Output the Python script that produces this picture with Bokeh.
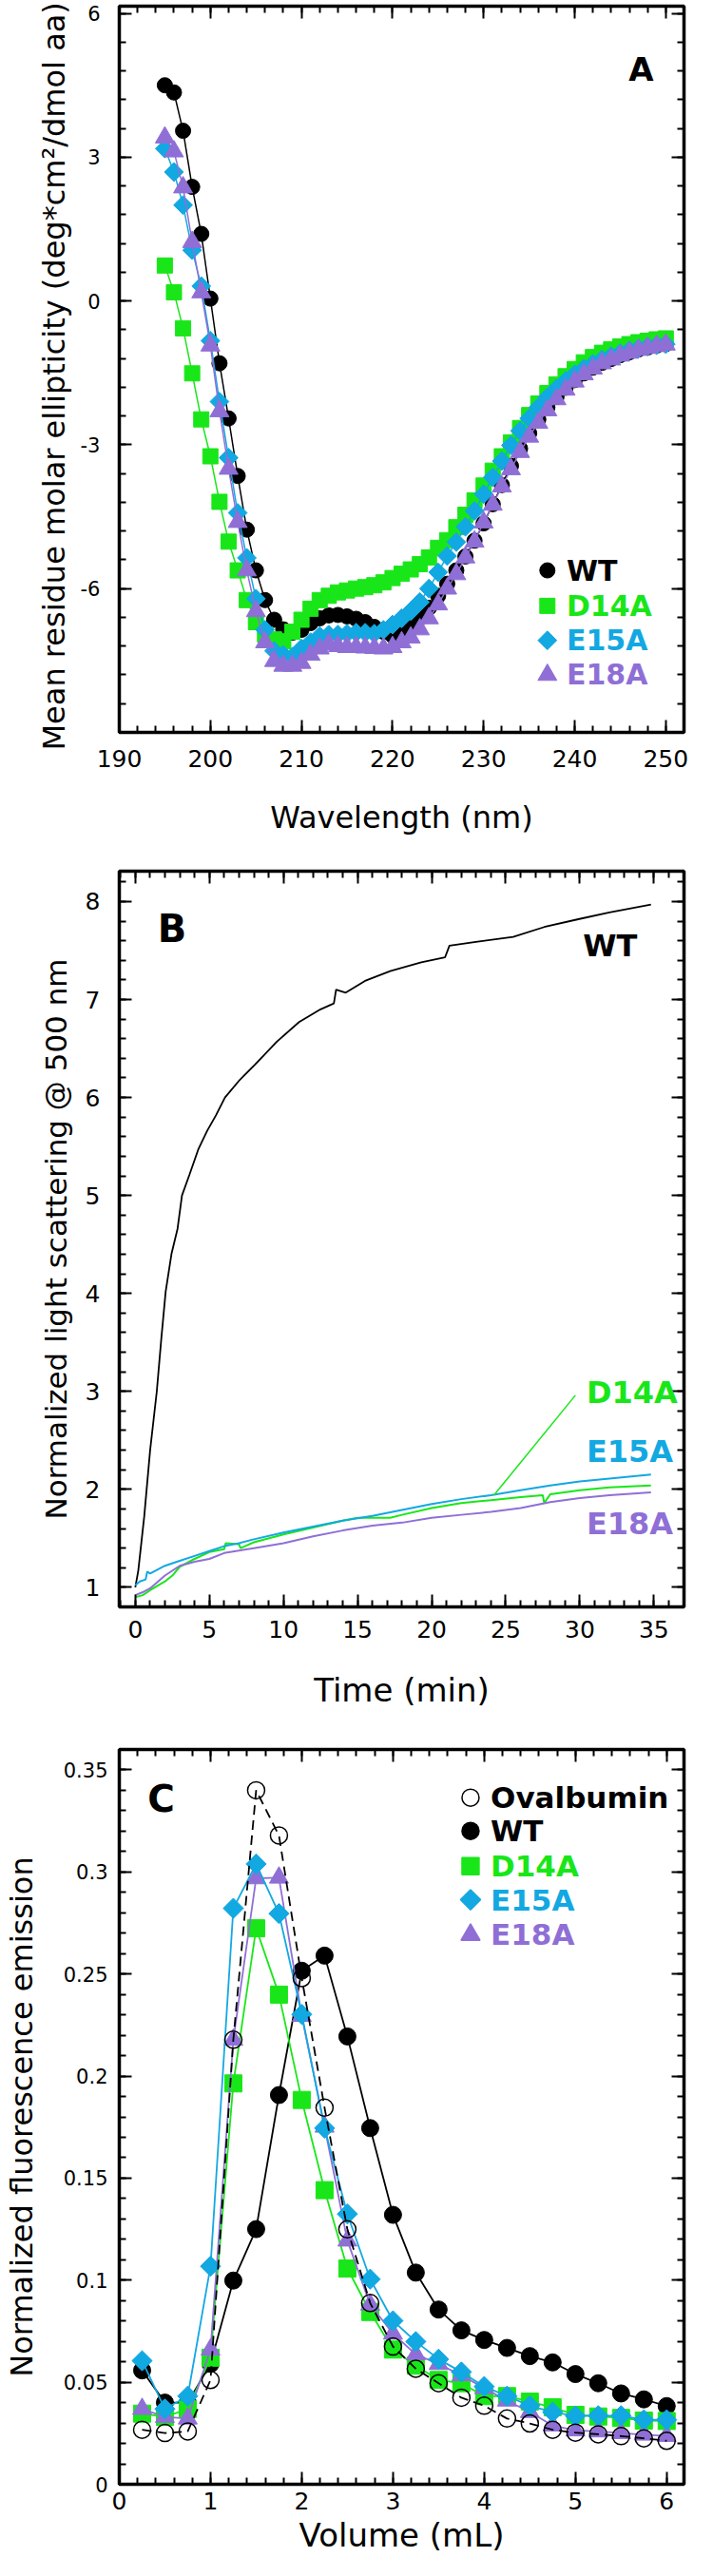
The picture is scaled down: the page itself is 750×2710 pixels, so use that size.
import numpy as np
from bokeh.plotting import figure
from bokeh.models import LinearAxis, FixedTicker, Range1d, Label, Title
from bokeh.layouts import column
from bokeh.embed import file_html
from bokeh.resources import INLINE

FONT = "DejaVu Sans"
C_WT = "#000000"
C_D14A = "#19e619"
C_E15A = "#12a8e2"
C_E18A = "#8f6fd6"

# ---------------- Panel A : CD spectra ----------------
wavelength = [195, 196, 197, 198, 199, 200, 201, 202, 203, 204, 205, 206, 207, 208,
              209, 210, 211, 212, 213, 214, 215, 216, 217, 218, 219, 220, 221, 222,
              223, 224, 225, 226, 227, 228, 229, 230, 231, 232, 233, 234, 235, 236,
              237, 238, 239, 240, 241, 242, 243, 244, 245, 246, 247, 248, 249, 250]
cd_wt = [4.50, 4.35, 3.55, 2.38, 1.40, 0.05, -1.30, -2.45, -3.65, -4.77, -5.62, -6.24,
         -6.65, -6.85, -6.92, -6.86, -6.72, -6.62, -6.56, -6.55, -6.58, -6.63, -6.70,
         -6.80, -6.90, -6.98, -6.95, -6.80, -6.60, -6.40, -6.15, -5.90, -5.62, -5.33,
         -5.00, -4.64, -4.24, -3.84, -3.44, -3.08, -2.76, -2.47, -2.22, -2.00, -1.81,
         -1.65, -1.51, -1.39, -1.29, -1.21, -1.13, -1.07, -1.01, -0.97, -0.93, -0.90]
cd_d14a = [0.74, 0.18, -0.57, -1.51, -2.47, -3.24, -4.19, -5.02, -5.62, -6.24, -6.70,
           -6.96, -7.06, -7.10, -6.90, -6.65, -6.42, -6.24, -6.15, -6.08, -6.04, -6.00,
           -5.97, -5.93, -5.87, -5.78, -5.69, -5.60, -5.49, -5.35, -5.15, -4.99, -4.72,
           -4.46, -4.16, -3.85, -3.54, -3.24, -2.95, -2.65, -2.38, -2.14, -1.92, -1.74,
           -1.57, -1.42, -1.28, -1.17, -1.08, -1.01, -0.95, -0.90, -0.86, -0.83, -0.80, -0.78]
cd_e15a = [3.18, 2.69, 2.00, 1.06, 0.31, -0.83, -2.10, -3.27, -4.42, -5.36, -6.21, -6.86,
           -7.30, -7.38, -7.42, -7.25, -7.12, -6.99, -6.96, -6.96, -6.94, -6.92, -6.92,
           -6.94, -6.86, -6.75, -6.62, -6.47, -6.28, -6.00, -5.66, -5.32, -5.03, -4.71,
           -4.38, -4.03, -3.68, -3.34, -3.01, -2.71, -2.45, -2.22, -2.01, -1.83, -1.67,
           -1.53, -1.41, -1.31, -1.22, -1.15, -1.09, -1.03, -0.99, -0.95, -0.92, -0.90]
cd_e18a = [3.41, 3.12, 2.37, 1.23, 0.18, -0.93, -2.30, -3.50, -4.61, -5.62, -6.47, -7.12,
           -7.51, -7.61, -7.61, -7.55, -7.38, -7.25, -7.16, -7.20, -7.22, -7.22, -7.23,
           -7.24, -7.25, -7.22, -7.12, -7.02, -6.85, -6.62, -6.33, -6.00, -5.70, -5.35,
           -5.02, -4.62, -4.25, -3.87, -3.51, -3.15, -2.83, -2.54, -2.28, -2.05, -1.85,
           -1.68, -1.53, -1.41, -1.30, -1.22, -1.14, -1.08, -1.02, -0.98, -0.94, -0.91]
xA_ticks = [190, 200, 210, 220, 230, 240, 250]
xA_labels = ["190", "200", "210", "220", "230", "240", "250"]
yA_ticks = [-6, -3, 0, 3, 6]
yA_labels = ["-6", "-3", "0", "3", "6"]

# ---------------- Panel B : light scattering kinetics ----------------
t_wt = [0.0, 0.2, 0.6, 1.0, 1.45, 1.75, 2.05, 2.45, 2.85, 3.15, 3.65, 4.25, 4.85, 5.45,
        6.05, 7.05, 8.1, 9.55, 11.05, 12.5, 13.4, 13.55, 14.2, 15.5, 17.2, 19.3, 20.9,
        21.2, 23.1, 25.5, 27.6, 29.9, 32.0, 34.8]
ls_wt = [1.00, 1.17, 1.72, 2.40, 3.00, 3.53, 4.02, 4.41, 4.66, 5.00, 5.21, 5.47, 5.66,
         5.82, 6.00, 6.18, 6.34, 6.57, 6.77, 6.90, 6.96, 7.10, 7.07, 7.19, 7.29, 7.38,
         7.43, 7.55, 7.59, 7.64, 7.74, 7.82, 7.89, 7.97]
t_d14a = [0.0, 0.5, 1.0, 2.0, 2.5, 3.0, 4.0, 5.0, 6.0, 6.1, 7.0, 7.1, 8.0, 10.0, 12.0,
          14.0, 15.0, 17.2, 18.0, 20.0, 22.0, 24.0, 26.0, 27.5, 27.6, 28.0, 30.0, 32.0, 34.8]
ls_d14a = [0.90, 0.92, 0.97, 1.06, 1.12, 1.21, 1.29, 1.36, 1.39, 1.45, 1.44, 1.40, 1.46,
           1.54, 1.61, 1.68, 1.71, 1.71, 1.74, 1.81, 1.86, 1.89, 1.92, 1.94, 1.86, 1.95,
           1.99, 2.02, 2.04]
t_e15a = [0.0, 0.3, 0.7, 0.8, 1.0, 2.0, 3.0, 4.0, 5.0, 6.0, 7.0, 8.0, 10.0, 12.0, 14.0,
          16.0, 18.0, 20.0, 22.0, 24.0, 26.0, 28.0, 30.0, 32.0, 34.8]
ls_e15a = [1.02, 1.06, 1.08, 1.16, 1.14, 1.22, 1.27, 1.32, 1.37, 1.42, 1.45, 1.49, 1.56,
           1.62, 1.68, 1.73, 1.79, 1.85, 1.90, 1.94, 1.99, 2.04, 2.08, 2.11, 2.15]
t_e18a = [0.0, 0.5, 1.0, 2.0, 3.0, 4.0, 5.0, 6.0, 8.0, 10.0, 12.0, 14.0, 16.0, 18.0,
          20.0, 22.0, 24.0, 26.0, 28.0, 30.0, 32.0, 34.8]
ls_e18a = [0.92, 0.95, 0.99, 1.12, 1.22, 1.26, 1.29, 1.35, 1.40, 1.45, 1.52, 1.58, 1.63,
           1.66, 1.71, 1.74, 1.77, 1.81, 1.87, 1.91, 1.94, 1.97]
xB_ticks = [0, 5, 10, 15, 20, 25, 30, 35]
xB_labels = ["0", "5", "10", "15", "20", "25", "30", "35"]
yB_ticks = [1, 2, 3, 4, 5, 6, 7, 8]
yB_labels = ["1", "2", "3", "4", "5", "6", "7", "8"]

# ---------------- Panel C : size-exclusion elution ----------------
volume = [0.25, 0.5, 0.75, 1.0, 1.25, 1.5, 1.75, 2.0, 2.25, 2.5, 2.75, 3.0, 3.25, 3.5,
          3.75, 4.0, 4.25, 4.5, 4.75, 5.0, 5.25, 5.5, 5.75, 6.0]
fl_oval = [0.0267, 0.0251, 0.0259, 0.0511, 0.2178, 0.3400, 0.3179, 0.2480, 0.1845, 0.1249,
           0.0888, 0.0675, 0.0566, 0.0495, 0.0424, 0.0385, 0.0322, 0.0298, 0.0267, 0.0253,
           0.0245, 0.0236, 0.0225, 0.0213]
fl_wt = [0.0558, 0.0400, 0.0400, 0.0590, 0.0998, 0.1250, 0.1907, 0.2516, 0.2590, 0.2194,
         0.1745, 0.1320, 0.1037, 0.0856, 0.0754, 0.0707, 0.0668, 0.0628, 0.0597, 0.0540,
         0.0495, 0.0445, 0.0416, 0.0383]
fl_d14a = [0.0346, 0.0330, 0.0369, 0.0620, 0.1964, 0.2724, 0.2399, 0.1883, 0.1441, 0.1057,
           0.0844, 0.0660, 0.0581, 0.0511, 0.0495, 0.0432, 0.0432, 0.0405, 0.0377, 0.0340,
           0.0332, 0.0325, 0.0312, 0.0310]
fl_e15a = [0.0605, 0.0369, 0.0432, 0.1068, 0.2822, 0.3039, 0.2796, 0.2302, 0.1745, 0.1324,
           0.1005, 0.0801, 0.0699, 0.0613, 0.0550, 0.0479, 0.0432, 0.0385, 0.0353, 0.0335,
           0.0336, 0.0336, 0.0316, 0.0316]
fl_e18a = [0.0369, 0.0330, 0.0322, 0.0660, 0.2178, 0.2969, 0.2972, 0.2295, 0.1752, 0.1194,
           0.0880, 0.0738, 0.0636, 0.0589, 0.0534, 0.0471, 0.0410, 0.0354, 0.0288, 0.0264,
           0.0259, 0.0251, 0.0243, 0.0237]
xC_ticks = [0, 1, 2, 3, 4, 5, 6]
xC_labels = ["0", "1", "2", "3", "4", "5", "6"]
yC_ticks = [0, 0.05, 0.1, 0.15, 0.2, 0.25, 0.3, 0.35]
yC_labels = ["0", "0.05", "0.1", "0.15", "0.2", "0.25", "0.3", "0.35"]


def make_panel(height, xr, yr, mb_left, mb_right, mb_top, mb_bottom):
    p = figure(width=734, height=height, x_range=Range1d(*xr), y_range=Range1d(*yr),
               output_backend="svg", toolbar_location=None,
               min_border_left=mb_left, min_border_right=mb_right,
               min_border_top=mb_top, min_border_bottom=mb_bottom)
    p.xgrid.visible = False
    p.ygrid.visible = False
    p.outline_line_color = "black"
    p.outline_line_width = 3.5
    p.background_fill_color = "white"
    p.border_fill_color = "white"
    return p


def style_axis(ax, ticker, ticks, labels, label_size=25, standoff=14,
               title=None, title_size=32, title_standoff=10, show_labels=True):
    ax.ticker = ticker
    ax.axis_line_color = None
    ax.major_tick_in = 13
    ax.major_tick_out = 0
    ax.minor_tick_in = 7
    ax.minor_tick_out = 0
    ax.major_tick_line_width = 2
    ax.minor_tick_line_width = 2
    ax.major_tick_line_color = "black"
    ax.minor_tick_line_color = "black"
    if show_labels:
        ax.major_label_overrides = {t: l for t, l in zip(ticks, labels)}
        ax.major_label_text_font = FONT
        ax.major_label_text_font_size = f"{label_size}px"
        ax.major_label_text_color = "black"
        ax.major_label_standoff = standoff
    else:
        ax.major_label_overrides = {t: "" for t in ticks}
        ax.major_label_text_font_size = "0px"
        ax.major_label_standoff = 0
    if title:
        ax.axis_label = title
        ax.axis_label_text_font = FONT
        ax.axis_label_text_font_size = f"{title_size}px"
        ax.axis_label_text_font_style = "normal"
        ax.axis_label_text_color = "black"
        ax.axis_label_standoff = title_standoff


def add_axes(p, xt, xl, xminor, yt, yl, yminor, xlab_size, ylab_size, xstand, ystand,
             xtitle, ytitle, xtitle_size, ytitle_size, xtitle_stand, ytitle_stand):
    xtick = FixedTicker(ticks=xt, minor_ticks=xminor)
    ytick = FixedTicker(ticks=yt, minor_ticks=yminor)
    style_axis(p.xaxis[0], xtick, xt, xl, xlab_size, xstand, xtitle, xtitle_size, xtitle_stand)
    style_axis(p.yaxis[0], ytick, yt, yl, ylab_size, ystand, ytitle, ytitle_size, ytitle_stand)
    top = LinearAxis()
    style_axis(top, FixedTicker(ticks=xt, minor_ticks=xminor), xt, xl, show_labels=False)
    p.add_layout(top, "above")
    right = LinearAxis()
    style_axis(right, FixedTicker(ticks=yt, minor_ticks=yminor), yt, yl, show_labels=False)
    p.add_layout(right, "right")


def add_label(p, x, y, text, color, size, bold=True, align="left"):
    p.add_layout(Label(x=x, y=y, text=text, text_color=color, text_font=FONT,
                       text_font_size=f"{size}px",
                       text_font_style="bold" if bold else "normal",
                       text_align=align, text_baseline="middle"))


# ---------------- build panel A ----------------
pA = make_panel(886, (190, 252), (-9, 6.15), 99, 15, 6, 116)
add_axes(pA, xA_ticks, xA_labels, list(np.arange(190, 252.1, 2)),
         yA_ticks, yA_labels, list(np.round(np.arange(-9, 6.01, 0.6), 2)),
         25, 21, 18, 20,
         "Wavelength (nm)", None,
         32, 32, 31, 13)
# y-axis title of panel A: a side title, started a little below the frame bottom
pA.add_layout(Title(text="Mean residue molar ellipticity (deg*cm\u00b2/dmol aa)",
                    align="left", offset=-19, standoff=12,
                    text_font=FONT, text_font_size="32px", text_font_style="normal",
                    text_color="black"), "left")
seriesA = [(cd_wt, C_WT, "circle", 16, 0.0),
           (cd_d14a, C_D14A, "square", 16, 0.0),
           (cd_e15a, C_E15A, "square", 14, np.pi / 4),
           (cd_e18a, C_E18A, "triangle", 20, 0.0)]
for ys, col, mk, sz, ang in seriesA:
    pA.line(wavelength, ys, line_color=col, line_width=1.5)
    pA.scatter(wavelength, ys, marker=mk, size=sz, angle=ang, fill_color=col, line_color=col)
legA_names = ["WT", "D14A", "E15A", "E18A"]
legA_y = [-5.62, -6.36, -7.08, -7.80]
for (ys, col, mk, sz, ang), name, ly in zip(seriesA, legA_names, legA_y):
    pA.scatter([237.0], [ly], marker=mk, size=sz, angle=ang, fill_color=col, line_color=col)
    add_label(pA, 239.1, ly, name, col, 30)
add_label(pA, 247.3, 4.84, "A", "black", 34, align="center")

# ---------------- build panel B ----------------
pB = make_panel(920, (-1.08, 37.03), (0.8, 8.31), 102, 13, 30, 116)
add_axes(pB, xB_ticks, xB_labels, list(np.arange(-1, 37.01, 1)),
         yB_ticks, yB_labels, list(np.round(np.arange(0.8, 8.31, 0.2), 2)),
         25, 25, 14, 20,
         "Time (min)", "Normalized light scattering @ 500 nm",
         34, 31, 32, 10)
pB.line(t_wt, ls_wt, line_color=C_WT, line_width=1.8)
pB.line(t_d14a, ls_d14a, line_color=C_D14A, line_width=2)
pB.line(t_e18a, ls_e18a, line_color=C_E18A, line_width=2)
pB.line(t_e15a, ls_e15a, line_color=C_E15A, line_width=2)
leader_t = [29.7, 24.2]
leader_v = [2.96, 1.94]
pB.line(leader_t, leader_v, line_color=C_D14A, line_width=1.5)
add_label(pB, 32.05, 7.55, "WT", C_WT, 32, align="center")
add_label(pB, 2.48, 7.72, "B", "black", 40, align="center")
add_label(pB, 30.45, 2.99, "D14A", C_D14A, 32)
add_label(pB, 30.45, 2.39, "E15A", C_E15A, 32)
add_label(pB, 30.45, 1.65, "E18A", C_E18A, 32)

# ---------------- build panel C ----------------
pC = make_panel(888, (0, 6.19), (0, 0.36), 117, 4, 34, 81)
add_axes(pC, xC_ticks, xC_labels, list(np.round(np.arange(0, 6.19, 0.2), 2)),
         yC_ticks, yC_labels, list(np.round(np.arange(0, 0.361, 0.01), 3)),
         25, 21, 8, 12,
         "Volume (mL)", "Normalized fluorescence emission",
         34, 32, 4, 22)
pC.line(volume, fl_wt, line_color=C_WT, line_width=1.8)
pC.scatter(volume, fl_wt, marker="circle", size=18, fill_color=C_WT, line_color=C_WT)
pC.line(volume, fl_d14a, line_color=C_D14A, line_width=1.8)
pC.scatter(volume, fl_d14a, marker="square", size=18, fill_color=C_D14A, line_color=C_D14A)
pC.line(volume, fl_e18a, line_color=C_E18A, line_width=1.8)
pC.scatter(volume, fl_e18a, marker="triangle", size=20, fill_color=C_E18A, line_color=C_E18A)
pC.line(volume, fl_e15a, line_color=C_E15A, line_width=1.8)
pC.scatter(volume, fl_e15a, marker="square", size=15, angle=np.pi / 4,
           fill_color=C_E15A, line_color=C_E15A)
pC.line(volume, fl_oval, line_color="black", line_width=1.8, line_dash="10 6")
pC.scatter(volume, fl_oval, marker="circle", size=18, fill_color=None,
           line_color="black", line_width=1.5)

legC = [("Ovalbumin", "black", "circle", 18, 0.0, None, 0.3364),
        ("WT", C_WT, "circle", 18, 0.0, C_WT, 0.3201),
        ("D14A", C_D14A, "square", 18, 0.0, C_D14A, 0.3028),
        ("E15A", C_E15A, "square", 15, np.pi / 4, C_E15A, 0.2864),
        ("E18A", C_E18A, "triangle", 20, 0.0, C_E18A, 0.2692)]
for name, col, mk, sz, ang, fill, ly in legC:
    pC.scatter([3.85], [ly], marker=mk, size=sz, angle=ang, fill_color=fill,
               line_color=col, line_width=1.5)
    add_label(pC, 4.07, ly, name, col, 31)
add_label(pC, 0.46, 0.336, "C", "black", 39, align="center")

layout = column(pA, pB, pC)
open("out.html", "w").write(file_html(layout, INLINE))
